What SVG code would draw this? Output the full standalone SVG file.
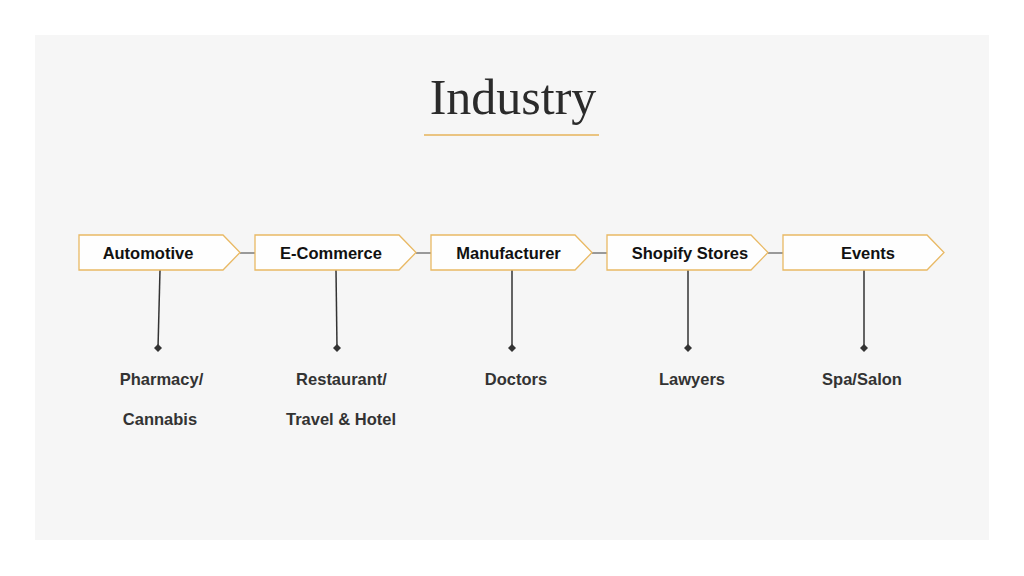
<svg xmlns="http://www.w3.org/2000/svg" width="1024" height="576" viewBox="0 0 1024 576">
<defs>
<style>
.box{fill:#fefefe;stroke:#e9b964;stroke-width:1.3}
.lbl{font-family:"Liberation Sans",Arial,sans-serif;font-weight:bold;font-size:16.5px;fill:#111;text-anchor:middle}
.sub{font-family:"Liberation Sans",Arial,sans-serif;font-weight:bold;font-size:16.5px;fill:#333;text-anchor:middle}
.link{stroke:#666;stroke-width:1.3;fill:none}
.drop{stroke:#333;stroke-width:1.5;fill:none}
.dot{fill:#333}
</style>
</defs>
<rect x="0" y="0" width="1024" height="576" fill="#ffffff"/>
<rect x="35" y="35" width="954" height="505" fill="#f6f6f6"/>
<g id="title">
<text x="513" y="114" font-family="'Liberation Serif','Times New Roman',serif" font-size="50" fill="#2b2b2b" text-anchor="middle">Industry</text>
<line x1="424" y1="135" x2="599" y2="135" stroke="#e6b35a" stroke-width="1.3"/>
</g>
<g id="connectors">
<line class="link" x1="240" y1="253" x2="255" y2="253"/>
<line class="link" x1="416" y1="253" x2="431" y2="253"/>
<line class="link" x1="592" y1="253" x2="607" y2="253"/>
<line class="link" x1="768" y1="253" x2="783" y2="253"/>
<line class="drop" x1="160" y1="270" x2="158" y2="348"/>
<path class="dot" d="M158 344 L162 348 L158 352 L154 348 Z"/>
<line class="drop" x1="336" y1="270" x2="337" y2="348"/>
<path class="dot" d="M337 344 L341 348 L337 352 L333 348 Z"/>
<line class="drop" x1="512" y1="270" x2="512" y2="348"/>
<path class="dot" d="M512 344 L516 348 L512 352 L508 348 Z"/>
<line class="drop" x1="688" y1="270" x2="688" y2="348"/>
<path class="dot" d="M688 344 L692 348 L688 352 L684 348 Z"/>
<line class="drop" x1="864" y1="270" x2="864" y2="348"/>
<path class="dot" d="M864 344 L868 348 L864 352 L860 348 Z"/>
</g>
<g id="automotive">
<path class="box" d="M79 235 H223 L240 252.5 L223 270 H79 Z"/>
<text class="lbl" x="148" y="259">Automotive</text>
</g>
<g id="ecommerce">
<path class="box" d="M255 235 H399 L416 252.5 L399 270 H255 Z"/>
<text class="lbl" x="331" y="259">E-Commerce</text>
</g>
<g id="manufacturer">
<path class="box" d="M431 235 H575 L592 252.5 L575 270 H431 Z"/>
<text class="lbl" x="508.5" y="259">Manufacturer</text>
</g>
<g id="shopify">
<path class="box" d="M607 235 H751 L768 252.5 L751 270 H607 Z"/>
<text class="lbl" x="690" y="259">Shopify Stores</text>
</g>
<g id="events">
<path class="box" d="M783 235 H927 L944 252.5 L927 270 H783 Z"/>
<text class="lbl" x="868" y="259">Events</text>
</g>
<g id="pharmacy">
<text class="sub" x="161.5" y="385">Pharmacy/</text>
<text class="sub" x="160" y="425">Cannabis</text>
</g>
<g id="restaurant">
<text class="sub" x="341.5" y="385">Restaurant/</text>
<text class="sub" x="341" y="425">Travel &amp; Hotel</text>
</g>
<g id="doctors">
<text class="sub" x="516" y="385">Doctors</text>
</g>
<g id="lawyers">
<text class="sub" x="692" y="385">Lawyers</text>
</g>
<g id="spa">
<text class="sub" x="862" y="385">Spa/Salon</text>
</g>
</svg>
